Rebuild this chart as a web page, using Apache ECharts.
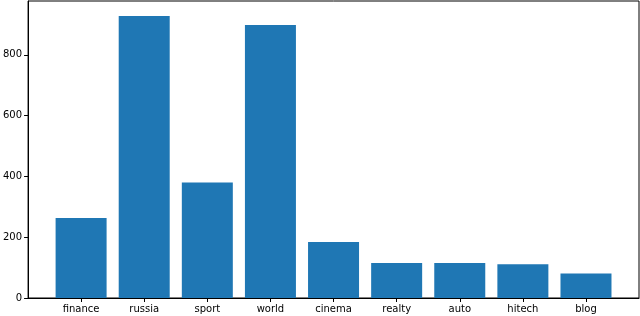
<!DOCTYPE html>
<html><head><meta charset="utf-8">
<script src="https://cdn.jsdelivr.net/npm/echarts@6/dist/echarts.min.js"></script>
<style>html,body{margin:0;padding:0;background:#fff}#c{width:640px;height:316px}</style>
</head><body><div id="c"></div>
<script>
const categories = ['finance','russia','sport','world','cinema','realty','auto','hitech','blog'];
const counts = [263, 928, 380, 898, 184, 115, 115, 111, 81];
const yTicks = [0, 200, 400, 600, 800];

const idx = categories.map((_, i) => i);
const chart = echarts.init(document.getElementById('c'));
chart.setOption({
  animation: false,
  grid: {left: 27, right: 1, top: 1, bottom: 18, show: true, borderColor: '#000', borderWidth: 1, backgroundColor: 'transparent'},
  xAxis: {
    type: 'value', min: -0.84, max: 8.84,
    splitLine: {show: false},
    axisLine: {show: true, onZero: false, lineStyle: {color: '#000'}},
    axisTick: {show: true, length: 4, lineStyle: {color: '#000'}, customValues: idx},
    axisLabel: {customValues: idx, formatter: v => categories[Math.round(v)], color: '#000', fontSize: 10, fontFamily: 'DejaVu Sans', margin: 6}
  },
  yAxis: {
    type: 'value', min: 0, max: 977,
    splitLine: {show: false},
    axisLine: {show: true, onZero: false, lineStyle: {color: '#000'}},
    axisTick: {show: true, length: 4, lineStyle: {color: '#000'}, customValues: yTicks},
    axisLabel: {customValues: yTicks, color: '#000', fontSize: 10, fontFamily: 'DejaVu Sans', margin: 6}
  },
  series: [{
    type: 'bar',
    data: counts.map((v, i) => [i, v]),
    barWidth: 51,
    itemStyle: {color: '#1f77b4'}
  }]
});
</script></body></html>
